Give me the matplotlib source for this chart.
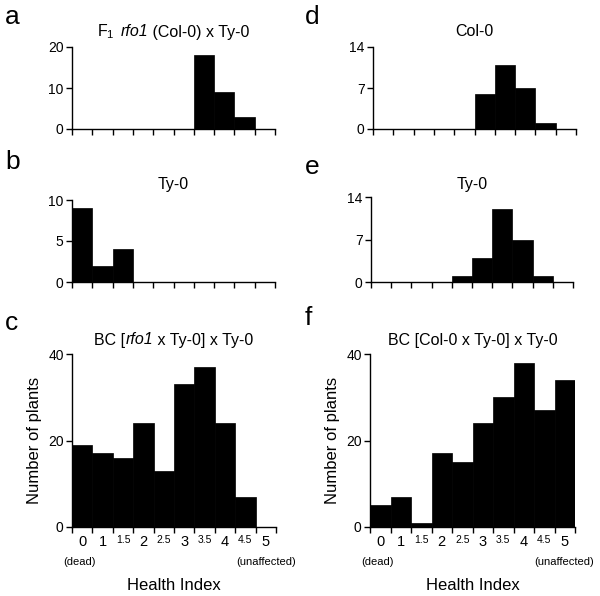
import matplotlib
matplotlib.use("Agg")
import matplotlib.pyplot as plt
import numpy as np

plt.rcParams['font.family'] = ['Liberation Sans', 'DejaVu Sans']
plt.rcParams['mathtext.fontset'] = 'custom'
plt.rcParams['mathtext.rm'] = 'Liberation Sans'
plt.rcParams['mathtext.it'] = 'Liberation Sans:italic'

categories = ["0", "1", "1.5", "2", "2.5", "3", "3.5", "4", "4.5", "5"]
vals_a = [0, 0, 0, 0, 0, 0, 18, 9, 3, 0]
vals_b = [9, 2, 4, 0, 0, 0, 0, 0, 0, 0]
vals_c = [19, 17, 16, 24, 13, 33, 37, 24, 7, 0]
vals_d = [0, 0, 0, 0, 0, 6, 11, 7, 1, 0]
vals_e = [0, 0, 0, 0, 1, 4, 12, 7, 1, 0]
vals_f = [5, 7, 1, 17, 15, 24, 30, 38, 27, 34]

# titles as (text, style) pieces
titles = {
    'a': [(r"F$_1$  ", 'normal'), ("rfo1", 'italic'), (" (Col-0) x Ty-0", 'normal')],
    'b': [("Ty-0", 'normal')],
    'c': [("BC [", 'normal'), ("rfo1", 'italic'), (" x Ty-0] x Ty-0", 'normal')],
    'd': [("Col-0", 'normal')],
    'e': [("Ty-0", 'normal')],
    'f': [("BC [Col-0 x Ty-0] x Ty-0", 'normal')],
}
yticks = {'a': [0, 10, 20], 'b': [0, 5, 10], 'c': [0, 20, 40],
          'd': [0, 7, 14], 'e': [0, 7, 14], 'f': [0, 20, 40]}
data = {'a': vals_a, 'b': vals_b, 'c': vals_c, 'd': vals_d, 'e': vals_e, 'f': vals_f}

W, H = 600, 596
fig = plt.figure(figsize=(W / 100, H / 100), dpi=100)
renderer = fig.canvas.get_renderer()

def px(x, y):
    return x / W, 1 - y / H

boxes = {
    'a': (72, 275, 47, 129),
    'b': (72, 275, 200, 282),
    'c': (72, 276, 354, 527),
    'd': (373, 576, 47, 129),
    'e': (371, 573, 197, 282),
    'f': (370, 575, 354, 527),
}
letters_pos = {'a': (5, 17), 'b': (5, 162), 'c': (5, 323),
               'd': (305, 17), 'e': (305, 167), 'f': (305, 318)}
title_y = {'a': 32, 'b': 185, 'c': 340, 'd': 32, 'e': 185, 'f': 340}
TFS = 11.5

def draw_title(cx, cy, pieces):
    widths = []
    for txt, st in pieces:
        t = fig.text(0, 0, txt, fontsize=TFS, style=st)
        bb = t.get_window_extent(renderer)
        widths.append(bb.width)
        t.remove()
    total = sum(widths)
    x = cx - total / 2
    for (txt, st), w in zip(pieces, widths):
        fig.text(x / W, 1 - cy / H, txt, fontsize=TFS, style=st, ha='left', va='center')
        x += w

for key, (x0, x1, yt, yb) in boxes.items():
    ax = fig.add_axes([x0 / W, 1 - yb / H, (x1 - x0) / W, (yb - yt) / H])
    vals = data[key]
    ax.bar(np.arange(len(vals)), vals, width=1.0, align='edge',
           color='black', edgecolor='black', linewidth=0.5)
    ax.set_xlim(0, len(vals))
    ax.set_ylim(0, max(yticks[key]))
    ax.set_yticks(yticks[key])
    ax.set_xticks(np.arange(len(vals) + 1))
    ax.set_xticklabels([])
    for s in ['top', 'right']:
        ax.spines[s].set_visible(False)
    for s in ['left', 'bottom']:
        ax.spines[s].set_linewidth(1.0)
    ax.tick_params(axis='both', which='major', direction='out', length=4,
                   width=1.0, labelsize=10, pad=2)
    draw_title((x0 + x1) / 2, title_y[key], titles[key])
    lx, ly = letters_pos[key]
    fig.text(*px(lx, ly), key, ha='left', va='center', fontsize=19)
    if key in ('c', 'f'):
        centers = np.arange(len(vals)) + 0.5
        ax.set_xticks(centers, minor=True)
        ax.set_xticklabels(categories, minor=True)
        ax.tick_params(axis='x', which='minor', length=0, pad=6)
        for lab, txt in zip(ax.get_xticklabels(minor=True), categories):
            lab.set_fontsize(10.5 if '.' not in txt else 7.5)
        ax.set_ylabel("Number of plants", fontsize=12, labelpad=4)
        off = x0 - 72
        fig.text(*px(80 + off, 562), "(dead)", ha='center', va='center', fontsize=8)
        fig.text(*px(296 + off, 562), "(unaffected)", ha='right', va='center', fontsize=8)
        fig.text(*px((x0 + x1) / 2, 585), "Health Index", ha='center', va='center', fontsize=12)

fig.savefig("out.png", dpi=100)
